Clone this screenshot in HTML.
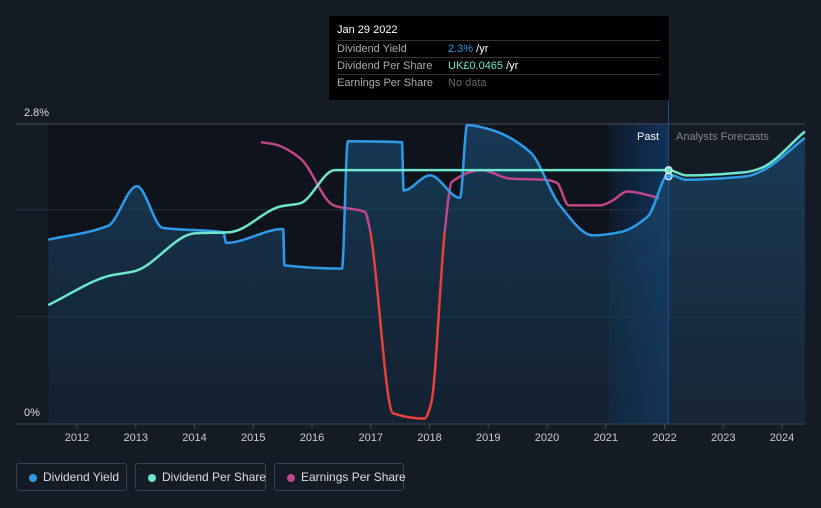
<!DOCTYPE html>
<html><head><meta charset="utf-8"><style>
body{margin:0;background:#151b25;font-family:"Liberation Sans",sans-serif;}
#wrap{position:relative;width:821px;height:508px;overflow:hidden;background:#151b25;}
.tip{position:absolute;left:329px;top:16px;width:340px;height:84px;background:#000;color:#fff;font-size:11px;}
.tip .r{position:absolute;left:8px;width:324px;border-top:1px solid #333;height:16px;line-height:16px;}
.lab{color:#aaa;position:absolute;left:0}
.val{position:absolute;left:111px}
.leg{position:absolute;top:463px;height:28px;border:1px solid #3a4150;border-radius:3px;color:#ddd;font-size:12px;line-height:27px;box-sizing:border-box;padding-left:26px;white-space:nowrap}
.leg i{position:absolute;left:12px;top:10px;width:8px;height:8px;border-radius:50%}
</style></head><body>
<div id="wrap">
<svg id="svg" width="821" height="508" style="position:absolute;left:0;top:0"></svg>
<div class="tip">
<div style="position:absolute;left:8px;top:8px;font-size:11px">Jan 29 2022</div>
<div class="r" style="top:24px"><span class="lab">Dividend Yield</span><span class="val"><span style="color:#2d9be8">2.3%</span> /yr</span></div>
<div class="r" style="top:41px"><span class="lab">Dividend Per Share</span><span class="val"><span style="color:#6ee6cd">UK£0.0465</span> /yr</span></div>
<div class="r" style="top:58px"><span class="lab">Earnings Per Share</span><span class="val" style="color:#666">No data</span></div>
</div>
<div class="leg" style="left:16px;width:111px"><i style="background:#2d9be8"></i>Dividend Yield</div>
<div class="leg" style="left:135px;width:131px"><i style="background:#6ee6cd"></i>Dividend Per Share</div>
<div class="leg" style="left:274px;width:130px"><i style="background:#c0468a"></i>Earnings Per Share</div>
</div>
<script>
const years=[2012,2013,2014,2015,2016,2017,2018,2019,2020,2021,2022,2023,2024];
const yTicks=[0,2.8];
const yieldX=[2011.51,2012.53,2013.02,2013.46,2014.49,2014.54,2015.51,2015.53,2016.51,2016.61,2017.53,2017.56,2018.01,2018.52,2018.64,2019.03,2019.71,2020.22,2020.78,2021.24,2021.72,2022.07,2022.37,2023.37,2023.65,2024.39];
const yieldY=[1.72,1.85,2.22,1.83,1.79,1.69,1.82,1.48,1.45,2.64,2.63,2.18,2.32,2.11,2.79,2.75,2.54,2.04,1.76,1.79,1.94,2.33,2.28,2.31,2.36,2.67];
const dpsX=[2011.51,2012.53,2013.0,2014.01,2014.6,2015.46,2015.8,2016.39,2022.07,2022.37,2023.37,2023.65,2024.39];
const dpsY=[1.11,1.38,1.43,1.78,1.79,2.03,2.06,2.37,2.37,2.32,2.35,2.39,2.73];
const epsX=[2015.13,2015.37,2015.8,2016.37,2016.9,2016.99,2017.38,2017.91,2018.03,2018.26,2018.38,2018.89,2019.37,2019.96,2020.17,2020.37,2020.9,2021.1,2021.37,2021.91];
const epsY=[2.63,2.61,2.48,2.04,1.98,1.8,0.1,0.05,0.2,1.8,2.26,2.37,2.29,2.28,2.25,2.04,2.04,2.08,2.17,2.11];
const NS='http://www.w3.org/2000/svg';
const svg=document.getElementById('svg');
const X=y=>77+(y-2012)*58.75, Y=v=>424-v*107.14;
function el(t,a,p){const e=document.createElementNS(NS,t);for(const k in a)e.setAttribute(k,a[k]);(p||svg).appendChild(e);return e;}
function mono(xs,ys){const px=xs.map(X),py=ys.map(Y),n=px.length,m=[],d=[];
for(let i=0;i<n-1;i++)d.push((py[i+1]-py[i])/(px[i+1]-px[i]));
for(let i=0;i<n;i++){if(i==0)m.push(d[0]);else if(i==n-1)m.push(d[n-2]);else m.push(d[i-1]*d[i]<=0?0:2/(1/d[i-1]+1/d[i]));}
let s='M'+px[0].toFixed(1)+','+py[0].toFixed(1);
for(let i=0;i<n-1;i++){const h=(px[i+1]-px[i])/3;s+='C'+(px[i]+h).toFixed(1)+','+(py[i]+m[i]*h).toFixed(1)+' '+(px[i+1]-h).toFixed(1)+','+(py[i+1]-m[i+1]*h).toFixed(1)+' '+px[i+1].toFixed(1)+','+py[i+1].toFixed(1);}
return s;}
const defs=el('defs',{});
defs.innerHTML='<linearGradient id="fill" x1="0" y1="0" x2="0" y2="1"><stop offset="0" stop-color="#1a4a70" stop-opacity=".7"/><stop offset="1" stop-color="#1a3a55" stop-opacity=".35"/></linearGradient><linearGradient id="hl" x1="0" x2="1"><stop offset="0" stop-color="#0f3a6a" stop-opacity=".2"/><stop offset="1" stop-color="#0f3a6a" stop-opacity=".8"/></linearGradient><clipPath id="top"><rect x="0" y="0" width="821" height="232"/></clipPath><clipPath id="bot"><rect x="0" y="232" width="821" height="300"/></clipPath>';
let r=el('rect',{x:48,y:124,width:X(2022.07)-48,height:300,fill:'#0f131b'});

r=el('rect',{x:609,y:124,width:X(2022.07)-609,height:300,fill:'url(#hl)'});

[1,2].forEach(v=>{const g=el('line',{x1:16,x2:805,y1:Y(v),y2:Y(v),stroke:'#2a3340','stroke-width':1});});
yTicks.forEach(v=>{const g=el('line',{x1:16,x2:805,y1:Y(v),y2:Y(v),stroke:'#444b57','stroke-width':1});
const t=el('text',{x:24,y:Y(v)-8,fill:'#ddd','font-size':11});t.textContent=v+'%';});
years.forEach(y=>{const t=el('text',{x:X(y),y:441,fill:'#ccc','font-size':11,'text-anchor':'middle'});t.textContent=y;
const l=el('line',{x1:X(y),x2:X(y),y1:424,y2:429,stroke:'#444b57'});});
const yp=mono(yieldX,yieldY);
let a=el('path',{d:yp+'L'+X(yieldX[yieldX.length-1])+',424L'+X(yieldX[0])+',424Z',fill:'url(#fill)'});

let vl=el('line',{x1:668.5,x2:668.5,y1:100,y2:424,stroke:'#1e4f8a'});
const ep=mono(epsX,epsY);
let l=el('path',{d:ep,fill:'none',stroke:'#c0468a','stroke-width':2.5,'clip-path':'url(#top)'});

l=el('path',{d:ep,fill:'none',stroke:'#e8413a','stroke-width':2.5,'clip-path':'url(#bot)'});

l=el('path',{d:yp,fill:'none',stroke:'#2d9be8','stroke-width':2.5});

l=el('path',{d:mono(dpsX,dpsY),fill:'none',stroke:'#6ee6cd','stroke-width':2.5});

let c=el('circle',{cx:X(2022.07),cy:Y(2.33)+2,r:3.5,fill:'#2d9be8',stroke:'#fff','stroke-width':1});
c=el('circle',{cx:X(2022.07),cy:Y(2.37),r:3.5,fill:'#6ee6cd',stroke:'#fff','stroke-width':1});
let t=el('text',{x:659,y:140,fill:'#fff','font-size':11,'text-anchor':'end'});t.textContent='Past';
t=el('text',{x:676,y:140,fill:'#888','font-size':11});t.textContent='Analysts Forecasts';
</script>
</body></html>
